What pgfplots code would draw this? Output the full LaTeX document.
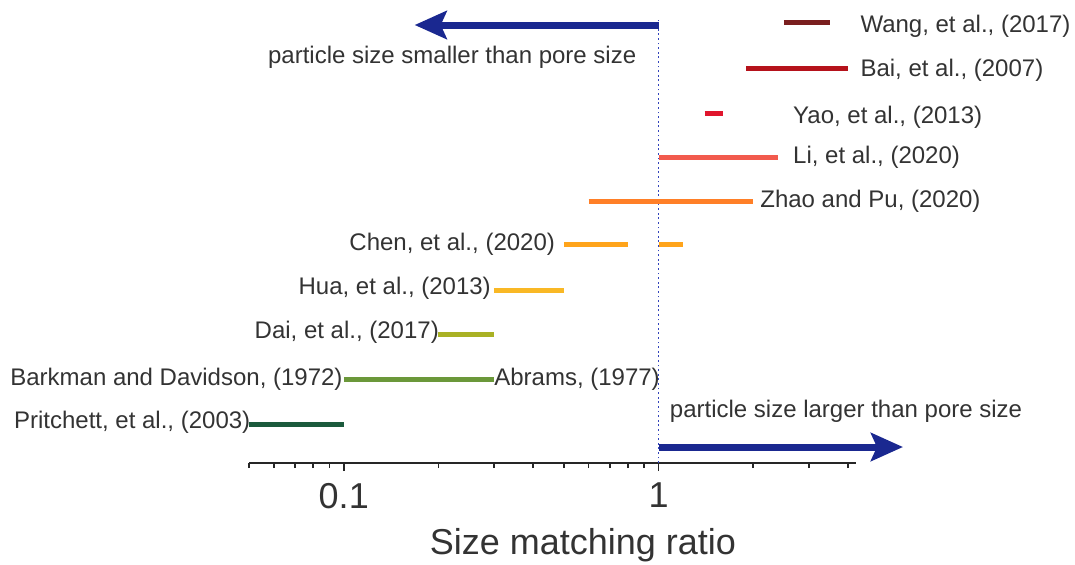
\documentclass[border=0pt]{standalone}
\usepackage{pgfplots}
\pgfplotsset{compat=1.18}
\usepackage{fontspec}
\setmainfont{Liberation Sans}
\usetikzlibrary{arrows.meta}
\definecolor{cWang}{HTML}{7A1F1F}
\definecolor{cBai}{HTML}{B5121B}
\definecolor{cYao}{HTML}{E0152D}
\definecolor{cLi}{HTML}{F25A4D}
\definecolor{cZhao}{HTML}{FF7F27}
\definecolor{cChen}{HTML}{FFA41B}
\definecolor{cHua}{HTML}{F9B825}
\definecolor{cDai}{HTML}{A9B124}
\definecolor{cBark}{HTML}{6B983A}
\definecolor{cPrit}{HTML}{1B5A3C}
\definecolor{navy}{HTML}{1A2890}
\definecolor{dotblue}{HTML}{3344BB}
\definecolor{txt}{HTML}{333333}
\begin{document}
\begin{tikzpicture}
\path[use as bounding box] (-124.5pt,-50.5pt) rectangle (413pt,231.5pt);
\begin{axis}[
  width=303.5pt, height=231.5pt, scale only axis,
  xmode=log, xmin=0.05, xmax=4.24, ymin=0, ymax=463,
  axis x line=bottom, axis y line=none,
  x axis line style={-, line width=1pt, black!85},
  clip=false,
  xtick={0.1,1}, xticklabels={0.1,1},
  minor xtick={0.05,0.06,0.07,0.08,0.09,0.2,0.3,0.4,0.5,0.6,0.7,0.8,0.9,2,3,4},
  tick align=outside, major tick length=4pt, minor tick length=2.5pt,
  every tick/.style={black!85, line width=0.8pt},
  /pgf/number format/assume math mode=true,
  xticklabel style={font=\fontsize{18}{20}\selectfont, text=txt, yshift=-2.5pt},
  xlabel={Size matching ratio},
  xlabel style={at={(axis description cs:0.55,-0.177)}, anchor=center, font=\fontsize{18}{20}\selectfont, text=txt},
]
% dotted reference line
\addplot[dotblue, line width=0.9pt, dash pattern=on 0.9pt off 1.4pt] coordinates {(1,0) (1,445)};
% arrows
\addplot[navy, line width=3.5pt, -{Stealth[length=16pt, width=14pt, inset=3pt]}] coordinates {(1,438) (0.168,438)};
\addplot[navy, line width=3.5pt, -{Stealth[length=16pt, width=14pt, inset=3pt]}] coordinates {(1,16) (5.98,16)};
% ranges
\addplot[cWang, line width=2.5pt] coordinates {(2.5,441) (3.5,441)};
\addplot[cBai, line width=2.5pt] coordinates {(1.9,395) (4.0,395)};
\addplot[cYao, line width=2.5pt] coordinates {(1.4,350) (1.6,350)};
\addplot[cLi, line width=2.5pt] coordinates {(1,306) (2.4,306)};
\addplot[cZhao, line width=2.5pt] coordinates {(0.6,262) (2.0,262)};
\addplot[cChen, line width=2.5pt] coordinates {(0.5,219) (0.8,219)};
\addplot[cChen, line width=2.5pt] coordinates {(1,219) (1.2,219)};
\addplot[cHua, line width=2.5pt] coordinates {(0.3,173) (0.5,173)};
\addplot[cDai, line width=2.5pt] coordinates {(0.2,129) (0.3,129)};
\addplot[cBark, line width=2.5pt] coordinates {(0.1,84) (0.3,84)};
\addplot[cPrit, line width=2.5pt] coordinates {(0.05,39) (0.1,39)};
% labels
\begin{scope}[every node/.style={font=\fontsize{12}{14}\selectfont, text=txt, inner sep=0pt}]
\node[anchor=west] at (axis cs:4.37,437) {Wang, et al., (2017)};
\node[anchor=west] at (axis cs:4.37,393) {Bai, et al., (2007)};
\node[anchor=west] at (axis cs:2.67,346) {Yao, et al., (2013)};
\node[anchor=west] at (axis cs:2.67,306) {Li, et al., (2020)};
\node[anchor=west] at (axis cs:2.10,262) {Zhao and Pu, (2020)};
\node[anchor=east] at (axis cs:0.47,219) {Chen, et al., (2020)};
\node[anchor=east] at (axis cs:0.294,175) {Hua, et al., (2013)};
\node[anchor=east] at (axis cs:0.201,131) {Dai, et al., (2017)};
\node[anchor=east] at (axis cs:0.0994,84) {Barkman and Davidson, (1972)};
\node[anchor=west] at (axis cs:0.30,84) {Abrams, (1977)};
\node[anchor=east] at (axis cs:0.0506,41) {Pritchett, et al., (2003)};
\node[anchor=center] at (axis cs:0.221,406) {particle size smaller than pore size};
\node[anchor=west] at (axis cs:1.084,52) {particle size larger than pore size};
\end{scope}
\end{axis}
\end{tikzpicture}
\end{document}
